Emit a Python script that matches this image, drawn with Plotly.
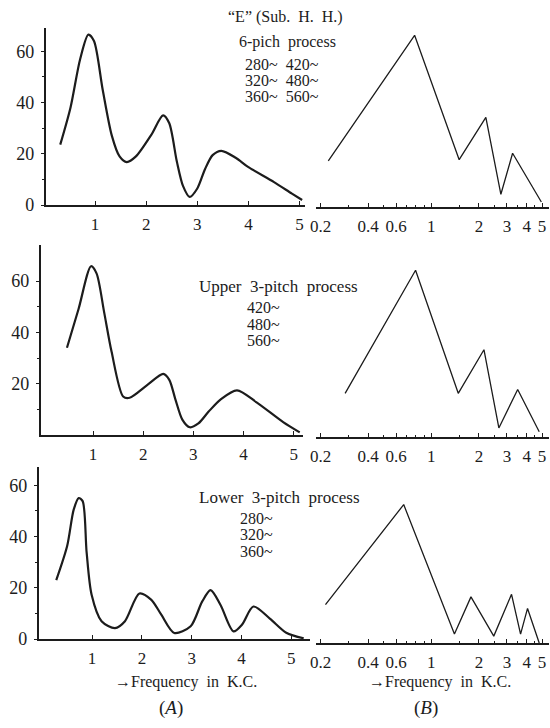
import plotly.graph_objects as go

W, H = 550, 728

# ---------------- data ----------------
# (A) linear frequency axis, smooth curves
freq_a1 = [0.32, 0.52, 0.71, 0.87, 0.98, 1.15, 1.33, 1.48, 1.62, 1.80, 2.10, 2.33, 2.45, 2.60, 2.72, 2.85, 3.00, 3.15, 3.30, 3.47, 3.75, 4.00, 4.50, 4.85, 5.05]
amp_a1 = [23.6, 38, 57, 66.5, 64, 45, 27, 19, 16.8, 19, 27.4, 35, 32, 17, 7.5, 3.2, 6.5, 14, 19.5, 21.2, 18.5, 14.8, 9, 4.5, 2]

freq_a2 = [0.48, 0.71, 0.96, 1.07, 1.22, 1.37, 1.60, 1.73, 2.09, 2.40, 2.52, 2.64, 2.78, 2.93, 3.10, 3.30, 3.54, 3.87, 4.26, 4.79, 5.12]
amp_a2 = [34, 49, 65.8, 63, 48, 32.4, 15, 14.5, 19.6, 23.8, 21.5, 14, 6, 3, 4.5, 9, 13.8, 17.4, 12.7, 5, 1]

freq_a3 = [0.28, 0.50, 0.63, 0.73, 0.81, 0.89, 0.99, 1.19, 1.46, 1.66, 1.95, 2.19, 2.39, 2.65, 2.98, 3.21, 3.38, 3.58, 3.84, 4.01, 4.24, 4.57, 4.90, 5.25]
amp_a3 = [23, 36.4, 50.5, 55, 53.8, 33.8, 17.3, 7, 4.3, 7, 17.8, 15.3, 9.5, 2.4, 5, 14.6, 19.1, 13.3, 3, 5.6, 12.7, 8, 2.5, 0.3]

# (B) logarithmic frequency axis, straight segments
freq_b1 = [0.224, 0.785, 1.50, 2.21, 2.75, 3.26, 4.95]
amp_b1 = [18, 67, 18.5, 35, 5, 21, 2]

freq_b2 = [0.286, 0.796, 1.48, 2.15, 2.67, 3.51, 4.80]
amp_b2 = [17, 65, 17, 34, 3.5, 18.5, 2]

freq_b3 = [0.215, 0.67, 1.40, 1.78, 2.48, 3.21, 3.66, 4.05, 4.80]
amp_b3 = [15, 54, 3.5, 18, 2.7, 19, 3.5, 13.5, 0]

lin_ticks = [1, 2, 3, 4, 5]
log_ticks = [0.2, 0.4, 0.6, 1, 2, 3, 4, 5]
log_minor = [0.3, 0.5, 0.7, 0.8, 0.9, 1.5, 2.5, 3.5, 4.5]
y_ticks_full = [0, 20, 40, 60]
y_ticks_mid = [20, 40, 60]

titles = ['\u201cE\u201d (Sub.&nbsp; H.&nbsp; H.)', '6-pich&nbsp; process',
          'Upper&nbsp; 3-pitch&nbsp; process', 'Lower&nbsp; 3-pitch&nbsp; process']
freqs_row1 = ['280~&nbsp; 420~', '320~&nbsp; 480~', '360~&nbsp; 560~']
freqs_row2 = ['420~', '480~', '560~']
freqs_row3 = ['280~', '320~', '360~']
xlabel = '\u2192Frequency&nbsp; in&nbsp; K.C.'
panel_tags = ['(<i>A</i>)', '(<i>B</i>)']

# ---------------- layout helpers ----------------
FONT = "Liberation Serif, Times New Roman, serif"
INK = "#1c1c1c"
PXU = 2.6  # pixels per amplitude unit


def fx(p):
    return p / W


def fy(p):
    return 1 - p / H


fig = go.Figure()
layout = dict(
    width=W, height=H, margin=dict(l=0, r=0, t=0, b=0),
    paper_bgcolor="white", plot_bgcolor="white", showlegend=False,
    font=dict(family=FONT, size=16, color=INK),
)

left_rows = [
    # x domain px, x range, base px, top px, y ticks
    ((40, 302), (0.033, 5.10), 208, 28, y_ticks_full),
    ((35, 300), (-0.045, 5.18), 441, 248, y_ticks_mid),
    ((33, 307), (-0.074, 5.37), 648, 473, y_ticks_full),
]
right_bases = [210, 443, 652]
series_a = [(freq_a1, amp_a1), (freq_a2, amp_a2), (freq_a3, amp_a3)]
series_b = [(freq_b1, amp_b1), (freq_b2, amp_b2), (freq_b3, amp_b3)]
TICKFONT = dict(family=FONT, size=17, color=INK)

n = 0
for r in range(3):
    # ---- left panel (A)
    n += 1
    (d0, d1), xr, base, top, yt = left_rows[r]
    xs, ys = series_a[r]
    fig.add_trace(go.Scatter(x=xs, y=ys, mode="lines",
                             line=dict(color=INK, width=2.2, shape="spline", smoothing=0.8),
                             xaxis=f"x{n}", yaxis=f"y{n}", hoverinfo="skip"))
    layout[f"xaxis{n}"] = dict(
        domain=[fx(d0), fx(d1)], range=list(xr), anchor=f"y{n}",
        showline=True, linecolor=INK, linewidth=1.6, showgrid=False, zeroline=False,
        tickvals=lin_ticks, ticks="inside", ticklen=4, tickcolor=INK,
        ticklabelstandoff=3,
        tickfont=TICKFONT,
    )
    layout[f"yaxis{n}"] = dict(
        domain=[fy(base), fy(top)], range=[0, (base - top) / PXU], anchor=f"x{n}",
        showline=True, linecolor=INK, linewidth=1.6, showgrid=False, zeroline=False,
        tickvals=yt, ticks="outside", ticklen=3, tickcolor=INK,
        ticklabelstandoff=3,
        minor=dict(tickvals=[10, 30, 50], ticks="outside", ticklen=2, tickcolor=INK),
        tickfont=dict(family=FONT, size=18, color=INK),
    )
    # ---- right panel (B)
    n += 1
    base = right_bases[r]
    top = base - 190
    xs, ys = series_b[r]
    fig.add_trace(go.Scatter(x=xs, y=ys, mode="lines",
                             line=dict(color=INK, width=1.3),
                             xaxis=f"x{n}", yaxis=f"y{n}", hoverinfo="skip"))
    layout[f"xaxis{n}"] = dict(
        type="log", domain=[fx(313), fx(549)], range=[-0.730, 0.743], anchor=f"y{n}",
        showline=True, linecolor=INK, linewidth=1.6, showgrid=False, zeroline=False,
        tickvals=log_ticks, ticktext=[str(t) for t in log_ticks],
        ticks="inside", ticklen=4, tickcolor=INK,
        ticklabelstandoff=3,
        minor=dict(tickvals=log_minor, ticks="inside", ticklen=2, tickcolor=INK),
        tickfont=TICKFONT,
    )
    layout[f"yaxis{n}"] = dict(
        domain=[fy(base), fy(top)], range=[0, 190 / PXU], anchor=f"x{n}",
        visible=False,
    )

ann = []


def add_text(text, x, y, size=16, xanchor="center"):
    ann.append(dict(text=text, x=fx(x), y=fy(y), xref="paper", yref="paper",
                    xanchor=xanchor, yanchor="middle", showarrow=False,
                    font=dict(family=FONT, size=size, color=INK)))


add_text(titles[0], 283, 17, 16)
add_text(titles[1], 285, 43, 16)
for i, t in enumerate(freqs_row1):
    add_text(t, 240, [65, 82, 98][i], 16, "left")
add_text(titles[2], 275, 290, 17)
for i, t in enumerate(freqs_row2):
    add_text(t, 242, [312, 329, 345][i], 16, "left")
add_text(titles[3], 277, 504, 17)
for i, t in enumerate(freqs_row3):
    add_text(t, 235, [526, 542, 559][i], 16, "left")
add_text(xlabel, 182, 692, 16)
add_text(xlabel, 439, 692, 16)
add_text(panel_tags[0], 167, 718, 19)
add_text(panel_tags[1], 425, 718, 19)

layout["annotations"] = ann
fig.update_layout(**layout)
fig.write_html("out.html")
